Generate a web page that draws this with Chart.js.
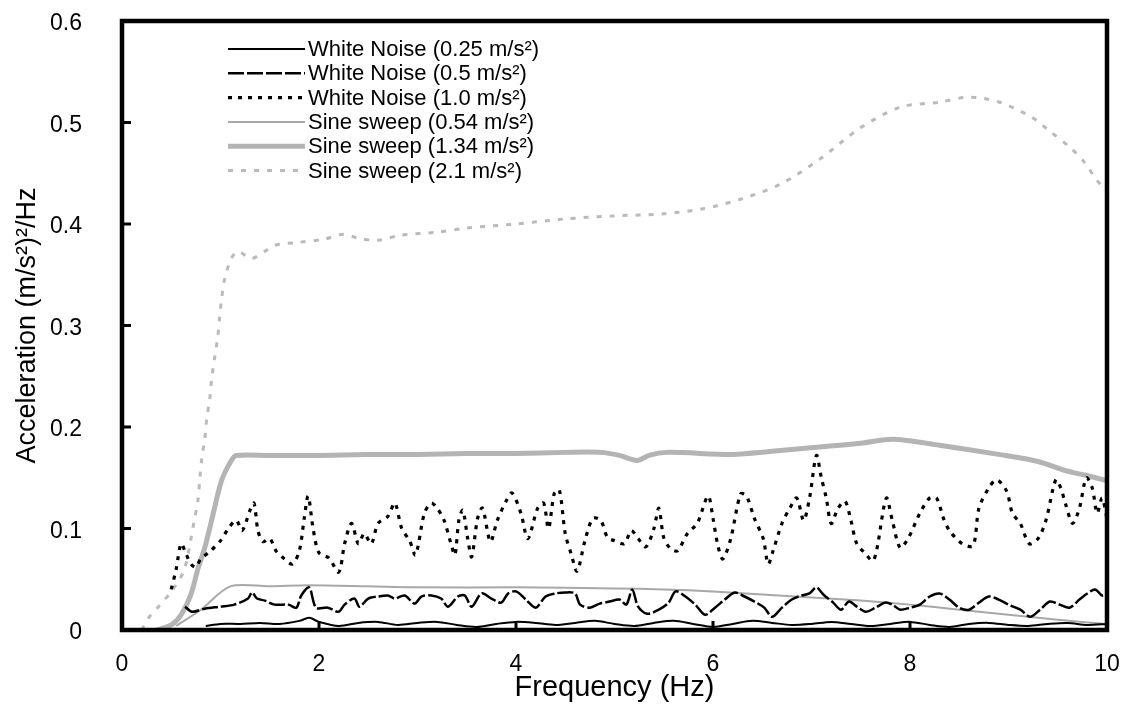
<!DOCTYPE html>
<html>
<head>
<meta charset="utf-8">
<script src="https://cdn.jsdelivr.net/npm/chart.js@4.4.1/dist/chart.umd.min.js"></script>
<style>
  html, body { margin: 0; padding: 0; background: #fff; }
  #wrap { width: 1134px; height: 704px; }
</style>
</head>
<body>
<div id="wrap"><canvas id="psd" width="1134" height="704"></canvas></div>
<script>
// [frequency (Hz), PSD ((m/s²)²/Hz)] for each excitation
const whiteNoise025 = [
    [0.85, 0.004], [1.0, 0.006], [1.2, 0.006], [1.4, 0.007], [1.6, 0.006], [1.8, 0.009], [1.9, 0.012], [2.0, 0.008],
    [2.2, 0.004], [2.4, 0.007], [2.6, 0.008], [2.8, 0.005], [3.0, 0.007], [3.2, 0.008], [3.4, 0.005], [3.6, 0.003],
    [3.8, 0.006], [4.0, 0.008], [4.2, 0.007], [4.4, 0.005], [4.6, 0.007], [4.8, 0.009], [5.0, 0.006], [5.2, 0.004],
    [5.4, 0.007], [5.6, 0.009], [5.8, 0.006], [6.0, 0.003], [6.2, 0.006], [6.4, 0.009], [6.6, 0.007], [6.8, 0.005],
    [7.0, 0.006], [7.2, 0.008], [7.4, 0.006], [7.6, 0.004], [7.8, 0.006], [8.0, 0.008], [8.2, 0.005], [8.4, 0.003],
    [8.6, 0.006], [8.8, 0.007], [9.0, 0.005], [9.2, 0.004], [9.4, 0.006], [9.6, 0.007], [9.8, 0.005], [10, 0.006]
];

const whiteNoise05 = [
    [0.64, 0.023], [0.71, 0.018], [0.84, 0.021], [1.0, 0.023], [1.14, 0.025], [1.28, 0.031], [1.32, 0.037], [1.37, 0.031],
    [1.45, 0.029], [1.55, 0.025], [1.69, 0.025], [1.77, 0.022], [1.82, 0.034], [1.9, 0.042], [1.97, 0.022], [2.09, 0.022],
    [2.2, 0.018], [2.26, 0.025], [2.36, 0.031], [2.41, 0.023], [2.5, 0.031], [2.6, 0.033], [2.7, 0.034], [2.77, 0.031],
    [2.87, 0.034], [2.97, 0.026], [3.04, 0.033], [3.14, 0.034], [3.24, 0.031], [3.31, 0.023], [3.41, 0.033], [3.48, 0.034],
    [3.55, 0.023], [3.65, 0.036], [3.75, 0.031], [3.85, 0.027], [3.92, 0.036], [4.0, 0.038], [4.1, 0.03], [4.2, 0.022],
    [4.3, 0.033], [4.4, 0.036], [4.5, 0.037], [4.6, 0.036], [4.65, 0.025], [4.75, 0.022], [4.85, 0.026], [4.95, 0.028],
    [5.05, 0.03], [5.12, 0.025], [5.18, 0.04], [5.24, 0.023], [5.33, 0.016], [5.45, 0.02], [5.55, 0.027], [5.62, 0.038],
    [5.72, 0.033], [5.82, 0.025], [5.92, 0.015], [6.02, 0.022], [6.12, 0.03], [6.22, 0.037], [6.32, 0.033], [6.42, 0.028],
    [6.52, 0.022], [6.6, 0.013], [6.7, 0.022], [6.8, 0.03], [6.9, 0.034], [6.98, 0.036], [7.05, 0.042], [7.12, 0.035],
    [7.22, 0.027], [7.3, 0.02], [7.38, 0.028], [7.46, 0.023], [7.55, 0.018], [7.65, 0.022], [7.75, 0.027], [7.82, 0.025],
    [7.9, 0.02], [8.0, 0.022], [8.1, 0.025], [8.2, 0.033], [8.3, 0.036], [8.4, 0.03], [8.5, 0.022], [8.6, 0.02],
    [8.7, 0.027], [8.8, 0.033], [8.9, 0.03], [9.0, 0.025], [9.12, 0.02], [9.22, 0.013], [9.32, 0.02], [9.42, 0.028],
    [9.52, 0.025], [9.62, 0.022], [9.72, 0.03], [9.8, 0.036], [9.88, 0.04], [9.95, 0.034], [10, 0.036]
];

const whiteNoise10 = [
    [0.5, 0.04], [0.55, 0.06], [0.6, 0.085], [0.65, 0.075], [0.7, 0.065], [0.75, 0.062], [0.8, 0.07], [0.9, 0.078],
    [1.0, 0.088], [1.08, 0.1], [1.16, 0.108], [1.22, 0.098], [1.3, 0.118], [1.34, 0.125], [1.38, 0.098], [1.43, 0.087],
    [1.5, 0.09], [1.57, 0.077], [1.65, 0.07], [1.73, 0.065], [1.8, 0.078], [1.85, 0.11], [1.89, 0.132], [1.94, 0.1],
    [2.0, 0.076], [2.1, 0.071], [2.2, 0.057], [2.26, 0.085], [2.33, 0.105], [2.4, 0.085], [2.46, 0.095], [2.53, 0.085],
    [2.6, 0.105], [2.7, 0.112], [2.77, 0.125], [2.84, 0.1], [2.92, 0.088], [2.98, 0.074], [3.07, 0.115], [3.14, 0.125],
    [3.2, 0.12], [3.27, 0.108], [3.34, 0.085], [3.38, 0.074], [3.42, 0.108], [3.46, 0.118], [3.51, 0.09], [3.55, 0.072],
    [3.61, 0.11], [3.66, 0.12], [3.74, 0.087], [3.81, 0.108], [3.9, 0.127], [3.96, 0.135], [4.05, 0.115], [4.12, 0.09],
    [4.22, 0.12], [4.28, 0.125], [4.33, 0.1], [4.39, 0.135], [4.44, 0.138], [4.5, 0.095], [4.56, 0.075], [4.62, 0.058],
    [4.7, 0.088], [4.78, 0.11], [4.86, 0.108], [4.93, 0.091], [5.0, 0.088], [5.1, 0.085], [5.17, 0.098], [5.24, 0.09],
    [5.32, 0.082], [5.4, 0.1], [5.45, 0.12], [5.5, 0.091], [5.57, 0.08], [5.64, 0.078], [5.74, 0.095], [5.84, 0.105],
    [5.95, 0.132], [6.0, 0.11], [6.05, 0.083], [6.1, 0.07], [6.18, 0.09], [6.28, 0.134], [6.34, 0.132], [6.42, 0.11],
    [6.51, 0.09], [6.56, 0.065], [6.61, 0.078], [6.7, 0.105], [6.78, 0.12], [6.85, 0.13], [6.92, 0.108], [6.98, 0.13],
    [7.05, 0.172], [7.1, 0.15], [7.15, 0.13], [7.2, 0.105], [7.27, 0.12], [7.34, 0.127], [7.4, 0.108], [7.46, 0.085],
    [7.55, 0.075], [7.62, 0.068], [7.66, 0.078], [7.76, 0.13], [7.82, 0.108], [7.9, 0.081], [7.98, 0.09], [8.1, 0.115],
    [8.2, 0.13], [8.27, 0.13], [8.34, 0.11], [8.4, 0.098], [8.53, 0.085], [8.64, 0.083], [8.7, 0.12], [8.8, 0.14],
    [8.88, 0.148], [8.98, 0.137], [9.04, 0.115], [9.12, 0.105], [9.21, 0.085], [9.3, 0.09], [9.38, 0.108], [9.48, 0.148],
    [9.53, 0.14], [9.58, 0.124], [9.65, 0.105], [9.72, 0.12], [9.79, 0.15], [9.85, 0.14], [9.9, 0.115], [9.95, 0.13],
    [10, 0.11]
];

const sineSweep054 = [
    [0.55, 0.004], [0.8, 0.02], [1.1, 0.043], [1.5, 0.043], [1.9, 0.044], [2.5, 0.043], [3.0, 0.042], [4.0, 0.042],
    [5.0, 0.041], [5.5, 0.04], [6.0, 0.038], [6.5, 0.035], [7.0, 0.032], [7.5, 0.029], [8.0, 0.025], [8.5, 0.02],
    [9.0, 0.015], [9.5, 0.01], [10, 0.006]
];

const sineSweep134 = [
    [0.35, 0.0], [0.5, 0.005], [0.6, 0.015], [0.7, 0.035], [0.77, 0.06], [0.84, 0.081], [0.91, 0.108], [1.01, 0.147],
    [1.11, 0.167], [1.16, 0.172], [1.5, 0.172], [2.0, 0.172], [2.5, 0.173], [3.0, 0.173], [3.5, 0.174], [4.0, 0.174],
    [4.5, 0.175], [4.86, 0.175], [5.05, 0.172], [5.23, 0.167], [5.35, 0.172], [5.53, 0.175], [6.2, 0.173], [6.6, 0.176],
    [7.05, 0.18], [7.5, 0.184], [7.83, 0.188], [8.3, 0.182], [8.9, 0.173], [9.3, 0.166], [9.58, 0.157], [9.8, 0.152],
    [10, 0.147]
];

const sineSweep21 = [
    [0.2, 0.0], [0.27, 0.012], [0.37, 0.023], [0.51, 0.039], [0.63, 0.059], [0.7, 0.09], [0.73, 0.106], [0.77, 0.127],
    [0.79, 0.149], [0.81, 0.169], [0.84, 0.188], [0.86, 0.208], [0.89, 0.227], [0.91, 0.247], [0.94, 0.268], [0.97, 0.287],
    [0.99, 0.307], [1.01, 0.325], [1.04, 0.345], [1.11, 0.366], [1.18, 0.373], [1.31, 0.366], [1.45, 0.373], [1.55, 0.379],
    [1.8, 0.382], [2.05, 0.385], [2.25, 0.39], [2.4, 0.386], [2.6, 0.384], [2.83, 0.389], [3.2, 0.392], [3.5, 0.396],
    [4.0, 0.4], [4.5, 0.405], [5.0, 0.408], [5.5, 0.41], [5.9, 0.415], [6.3, 0.425], [6.7, 0.44], [7.1, 0.465],
    [7.5, 0.495], [7.9, 0.515], [8.3, 0.52], [8.6, 0.525], [8.91, 0.52], [9.24, 0.505], [9.41, 0.492], [9.63, 0.475],
    [9.77, 0.461], [9.89, 0.444], [10, 0.432]
];

const seriesNames = [
    'White Noise (0.25 m/s²)',
    'White Noise (0.5 m/s²)',
    'White Noise (1.0 m/s²)',
    'Sine sweep (0.54 m/s²)',
    'Sine sweep (1.34 m/s²)',
    'Sine sweep (2.1 m/s²)'
];

const yTicks = [0, 0.1, 0.2, 0.3, 0.4, 0.5, 0.6];
const xTicks = [0, 2, 4, 6, 8, 10];

const FONT = 'Liberation Sans, Arial, Helvetica, sans-serif';

function toPoints(pairs) {
    return pairs.map(p => ({ x: p[0], y: p[1] }));
}

const lineStyles = [
    { color: '#000000', width: 2, dash: [] },
    { color: '#000000', width: 2.5, dash: [16, 3] },
    { color: '#000000', width: 3.2, dash: [4, 6] },
    { color: '#a8a8a8', width: 2, dash: [] },
    { color: '#b4b4b4', width: 5, dash: [] },
    { color: '#bababa', width: 3, dash: [5, 8] }
];

const seriesData = [whiteNoise025, whiteNoise05, whiteNoise10, sineSweep054, sineSweep134, sineSweep21];

const datasets = seriesData.map((pairs, i) => ({
    label: seriesNames[i],
    data: toPoints(pairs),
    borderColor: lineStyles[i].color,
    borderWidth: lineStyles[i].width,
    borderDash: lineStyles[i].dash,
    pointRadius: 0,
    tension: 0.3,
    fill: false
}));

// thick box around the plot and inward tick marks
const framePlugin = {
    id: 'frame',
    afterDatasetsDraw(chart) {
        const { ctx, chartArea: a, scales } = chart;
        ctx.save();
        ctx.strokeStyle = '#000';
        ctx.lineWidth = 3;
        ctx.setLineDash([]);
        ctx.beginPath();
        yTicks.forEach(v => {
            const y = scales.y.getPixelForValue(v);
            ctx.moveTo(a.left, y);
            ctx.lineTo(a.left + 9, y);
        });
        xTicks.forEach(v => {
            const x = scales.x.getPixelForValue(v);
            ctx.moveTo(x, a.bottom);
            ctx.lineTo(x, a.bottom - 9);
        });
        ctx.stroke();
        ctx.lineWidth = 4.5;
        ctx.strokeRect(a.left, a.top, a.right - a.left, a.bottom - a.top);
        ctx.restore();
    }
};

// legend drawn inside the plot, upper left
const insideLegend = {
    id: 'insideLegend',
    afterDatasetsDraw(chart) {
        const { ctx, chartArea: a } = chart;
        const x0 = a.left + 106;
        const x1 = a.left + 183;
        const top = a.top + 28;
        const rowGap = 24.3;
        ctx.save();
        ctx.font = '22px ' + FONT;
        ctx.textBaseline = 'middle';
        ctx.textAlign = 'left';
        chart.data.datasets.forEach((ds, i) => {
            const y = top + i * rowGap;
            ctx.strokeStyle = ds.borderColor;
            ctx.lineWidth = ds.borderWidth;
            ctx.setLineDash(ds.borderDash);
            ctx.beginPath();
            ctx.moveTo(x0, y);
            ctx.lineTo(x1, y);
            ctx.stroke();
            ctx.setLineDash([]);
            ctx.fillStyle = '#000';
            ctx.fillText(ds.label, x1 + 3, y + 1);
        });
        ctx.restore();
    }
};

const chart = new Chart(document.getElementById('psd'), {
    type: 'line',
    data: { datasets: datasets },
    options: {
        responsive: false,
        animation: false,
        devicePixelRatio: 1,
        layout: { padding: { top: 21, right: 27, left: 0, bottom: 0 } },
        plugins: {
            legend: { display: false },
            tooltip: { enabled: false }
        },
        scales: {
            x: {
                type: 'linear',
                min: 0,
                max: 10,
                afterFit: scale => {
                    scale.height = 74;
                    scale.paddingLeft = 0;
                    scale.paddingRight = 0;
                },
                afterBuildTicks: scale => { scale.ticks = xTicks.map(v => ({ value: v })); },
                ticks: {
                    color: '#000',
                    font: { family: FONT, size: 23 },
                    padding: 21,
                    maxRotation: 0
                },
                grid: { display: false, drawTicks: false },
                border: { display: false },
                title: {
                    display: true,
                    text: 'Frequency (Hz)',
                    color: '#000',
                    font: { family: FONT, size: 29, lineHeight: 1.1 },
                    padding: { top: 0, bottom: 0 }
                }
            },
            y: {
                type: 'linear',
                min: 0,
                max: 0.6,
                afterFit: scale => {
                    scale.width = 122;
                    scale.paddingTop = 0;
                    scale.paddingBottom = 0;
                },
                afterBuildTicks: scale => { scale.ticks = yTicks.map(v => ({ value: v })); },
                ticks: {
                    color: '#000',
                    font: { family: FONT, size: 23 },
                    padding: 40,
                    labelOffset: 3,
                    callback: v => (v === 0 ? '0' : v.toFixed(1))
                },
                grid: { display: false, drawTicks: false },
                border: { display: false },
                title: {
                    display: true,
                    text: 'Acceleration (m/s²)²/Hz',
                    color: '#000',
                    font: { family: FONT, size: 27, lineHeight: 1.2 },
                    padding: { top: 11, bottom: 0 }
                }
            }
        }
    },
    plugins: [framePlugin, insideLegend]
});
</script>
</body>
</html>
